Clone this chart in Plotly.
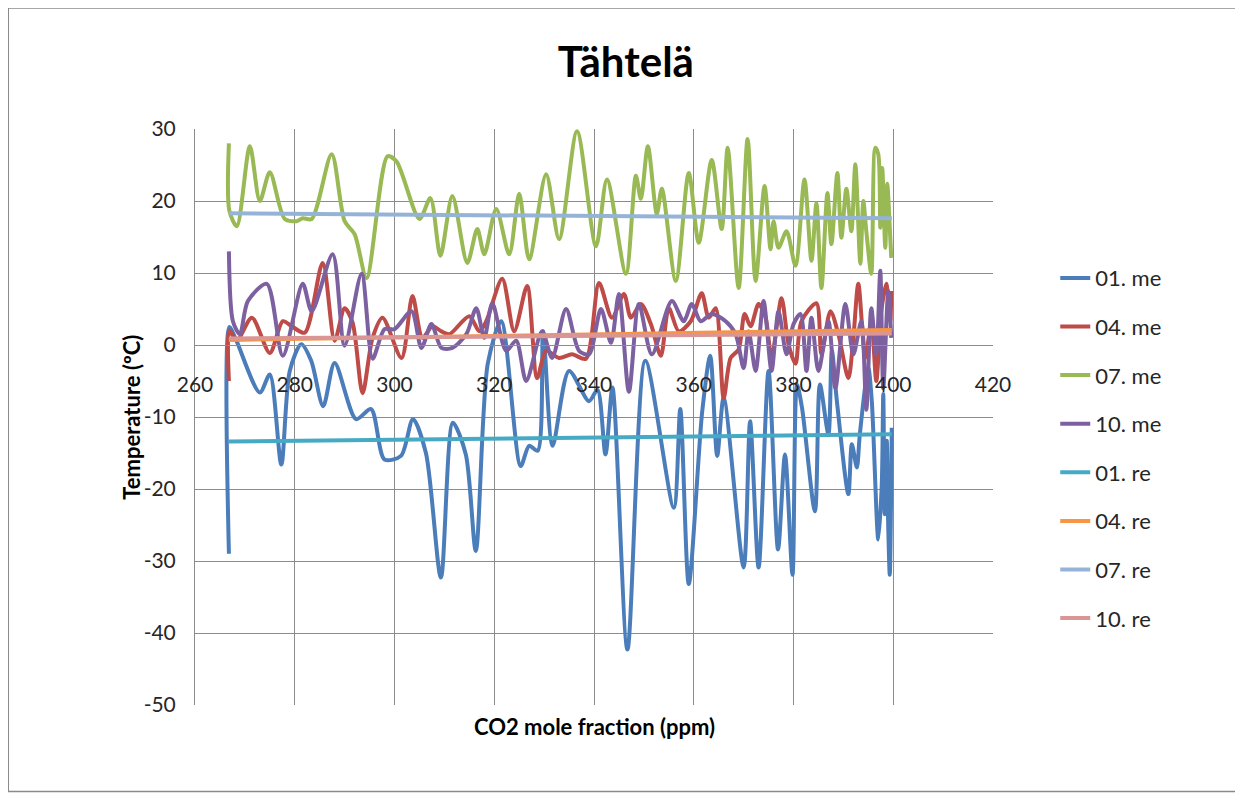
import plotly.graph_objects as go

# CO2 (ppm) / temperature (ºC) knots
x_01_me = [266.8, 266.9, 268.3, 273, 275, 277.3, 279, 281.3, 283.3, 285.7, 288, 292.3, 295.3, 298, 301.3,
           303.7, 306.3, 309.3, 311.7, 314.3, 316.3, 318.7, 321.4, 325.3, 327, 328.7, 329.8, 331.7, 335, 339,
           340.7, 342.3, 343.7, 346.7, 350.3, 356, 357.3, 359, 361.7, 363.3, 364.7, 366, 370, 371.3, 373,
           375, 376.9, 378.3, 379.8, 380.7, 381.7, 384.3, 385.3, 387, 387.7, 388.7, 391, 391.7, 392.7, 393.3,
           395, 395.7, 397, 397.7, 398, 398.3, 398.7, 399, 399.3, 399.7]
t_01_me = [-29, 2.5, 0.6, -6.6, -4.1, -16.6, -3.6, 0.1, -2.2, -8.5, -2.5, -10.3, -8.9, -15.9, -15.4,
           -10.3, -15, -32.3, -10.8, -15.2, -28.6, -2.6, 3.3, -16.8, -14, -14.7, 1.9, -14, -3.6, -7.8,
           -6.2, -15.2, -5.9, -42.3, -2.2, -22.6, -8.9, -33.2, -9.2, -1.5, -15.4, -7.3, -30.9, -10.6, -30.9,
           -3.6, -28.4, -15.2, -31.9, -5.5, -8.7, -23.1, -5.5, -12.4, -0.8, -7.8, -20.7, -13.8, -17, -12.4,
           -3.2, -7.8, -27, -19.3, -6.8, -23.5, -13.3, -25.4, -31.9, -11.5]

x_04_me = [266.8, 266.9, 268.4, 271.4, 275, 277.6, 279.4, 282, 285.6, 288, 290, 291.6, 293.6, 295.6, 297.6,
           301.4, 303.6, 305.6, 307.6, 309.4, 311, 315, 317, 318.4, 321.6, 324, 326.6, 328.6, 330.4, 333,
           335.6, 338.4, 341, 343.6, 346, 347.4, 349.4, 351.4, 353.4, 355, 357, 359.4, 361.6, 363, 364.4,
           366, 367.4, 369, 370.2, 371.4, 373, 374.4, 375.6, 377.6, 379, 380.4, 381.6, 384.6, 385.6, 387.4,
           389, 391, 392, 393, 394.4, 395.6, 396.6, 397.6, 398.6, 399.4, 399.6]
t_04_me = [-5, 2, 0.6, 3.8, -1.1, 3.3, 2.6, 1.7, 11.4, 0.6, 5.1, 3.1, -6.7, 1.0, 3.8,
           -1.8, 6.8, 1.0, 2.6, 1.9, 1.5, 4.0, 1.9, 3.3, 9.2, 1.9, 8.2, -4.6, -0.8, -1.8,
           -1.3, -1.9, 8.6, 3.8, 7.1, 3.8, 5.7, 2.9, -1.5, 5.1, 1.9, 3.3, 7.2, 3.8, 5.1,
           -7.4, -1.8, -0.6, 4.3, 2.6, 5.7, 3.8, -1.8, 6.5, 0.1, -2.6, 3.3, 5.8, -1.3, 4.7,
           1.5, -4.6, 1.0, 8.5, -1.8, 3.3, -5, 4.7, 8.5, 3.3, 7.5]

x_07_me = [266.8, 266.9, 268.4, 271, 273, 275, 278, 280.4, 281.6, 283.4, 287.4, 290, 292, 294.4, 298.6,
           300.4, 305, 307.2, 309.2, 311.6, 314.6, 316.6, 318, 320.4, 323, 325, 327, 330.4, 333, 336.6,
           340.4, 342.6, 346.4, 348.4, 349.4, 350.8, 352.6, 353.6, 356.4, 359, 361, 363.6, 365.6, 366.8, 369,
           370.8, 372.4, 374.2, 375.4, 376, 377, 378.6, 380.4, 382.2, 383.6, 384.6, 385.6, 386.8, 387.6, 388.8,
           389.6, 390.6, 391.6, 392.4, 393.4, 394, 394.6, 395.6, 396.4, 397, 397.4, 397.8, 398.4, 398.8,
           399.4, 399.6]
t_07_me = [28, 18.6, 16.5, 27.6, 20, 24, 17.5, 17.2, 17.6, 17.5, 26.5, 17.2, 15.4, 9.3, 26.2,
           25.5, 17.5, 20.4, 12.4, 20.7, 11.4, 16.1, 12.6, 18.9, 12.6, 21, 11.9, 23.7, 14.7, 29.7,
           13.7, 23, 9.9, 23.5, 20.3, 27.6, 18.2, 21.7, 8.9, 23.9, 14.2, 25.7, 16.1, 27.4, 7.9,
           28.6, 8.9, 22.1, 13.3, 17.2, 13.5, 15.8, 11.0, 23.0, 11.7, 19.7, 7.9, 21.1, 14.0, 23.9,
           14.9, 21.7, 15.8, 25.1, 11.3, 20, 15.8, 9.9, 27.4, 26.5, 16.3, 24.6, 13.5, 22.4,
           14.9, 12.1]

x_10_me = [266.8, 267.6, 269, 270.6, 274.4, 277.6, 281.6, 283.4, 287.6, 290, 293.4, 295.6, 298, 300, 303.4,
           305.4, 307.4, 309.4, 311.6, 314.4, 316.4, 318, 319.6, 322.4, 324.4, 326.4, 329.6, 331.6, 334.4, 337,
           339, 341.4, 343.4, 345, 347, 349, 351.6, 355.6, 358, 359.6, 361.4, 363.6, 366.4, 368.4, 370,
           371, 372.4, 374, 375.6, 377, 378.6, 380, 381.4, 382.6, 383.6, 385, 387, 388.4, 390.4, 392,
           393.6, 394.6, 395.6, 396.6, 397.4, 398, 399, 399.6]
t_10_me = [13, 3.3, 1.5, 6.1, 8.5, -1.5, 8.5, 4.7, 12.6, -0.1, 9.9, -1.9, 2.2, 2.2, 4.7,
           -0.4, 2.9, -0.4, -0.4, 1.5, 5.1, 1.0, 5.8, -0.8, 0.6, -5, 1.9, -1.8, 5.0, -0.8,
           -1.3, 5.0, 0.3, 7.1, -6.5, 5.7, -1.3, 6.1, 3.3, 5.7, 3.3, 4.3, 3.3, 1.5, -3.2,
           1.9, -3.6, 6.1, -3.6, 4.7, -1.3, 2.9, 4.3, -3.6, 3.8, -3.6, 3.3, -6, 5.7, -1.3,
           3.3, -9, 5.1, -1.3, 10.3, -6, 7.5, 1]

# regression lines (end points)
x_re = [266.8, 399.7]
t_01_re = [-13.4, -12.4]
t_04_re = [0.7, 2.1]
t_07_re = [18.3, 17.6]
t_10_re = [0.9, 1.6]

x_ticks = [260, 280, 300, 320, 340, 360, 380, 400, 420]
y_ticks = [-50, -40, -30, -20, -10, 0, 10, 20, 30]

series = [
    ("01. me", x_01_me, t_01_me, "#4A7DBA", "spline"),
    ("04. me", x_04_me, t_04_me, "#BE4B48", "spline"),
    ("07. me", x_07_me, t_07_me, "#98B954", "spline"),
    ("10. me", x_10_me, t_10_me, "#7D60A0", "spline"),
    ("01. re", x_re, t_01_re, "#46AAC5", "linear"),
    ("04. re", x_re, t_04_re, "#F69544", "linear"),
    ("07. re", x_re, t_07_re, "#95B3D7", "linear"),
    ("10. re", x_re, t_10_re, "#D99694", "linear"),
]

FONT = "Lato, 'Open Sans', sans-serif"
GRID = "#8C8C8C"
TXT = "#262626"

fig = go.Figure()
for name, xs, ys, col, shape in series:
    fig.add_trace(go.Scatter(
        x=xs, y=ys, mode="lines", name=name, legendgroup=name,
        line=dict(color=col, width=4, shape=shape, smoothing=0.8),
    ))

# the page has an 8px body margin, so the figure is offset by 8px
fig.update_layout(
    width=1243, height=800,
    margin=dict(l=187, r=258, t=121, b=103),
    paper_bgcolor="white", plot_bgcolor="white",
    font=dict(family=FONT, size=20, color=TXT),
    title=dict(text="<b>Tähtelä</b>", x=0.497, xanchor="center", y=0.9325, yanchor="middle",
               font=dict(size=42, color="#000000", family=FONT)),
    xaxis=dict(range=[260, 420], tickmode="array", tickvals=x_ticks,
               ticktext=[str(v) for v in x_ticks],
               showgrid=True, gridcolor=GRID, gridwidth=1,
               zeroline=False, showline=True, linecolor=GRID, linewidth=1,
               anchor="free", position=0.625, ticks="", ticklabelstandoff=21,
               tickfont=dict(size=21, color=TXT)),
    yaxis=dict(range=[-50, 30], tickmode="array", tickvals=y_ticks,
               ticktext=[str(v) for v in y_ticks],
               showgrid=True, gridcolor=GRID, gridwidth=1,
               zeroline=False, showline=True, linecolor=GRID, linewidth=1, ticks="",
               ticklabelstandoff=14, tickfont=dict(size=21, color=TXT)),
    legend=dict(x=1.078, xanchor="left", y=0.446, yanchor="middle", tracegroupgap=17,
                font=dict(size=22, color=TXT), bgcolor="rgba(0,0,0,0)"),
    annotations=[
        dict(text="<b>CO2 mole fraction (ppm)</b>", xref="paper", yref="paper", x=0.5, y=-0.038,
             yanchor="middle", showarrow=False, font=dict(size=22, color="#000000")),
        dict(text="<b>Temperature (ºC)</b>", xref="paper", yref="paper", x=-0.1, y=0.5,
             textangle=-90, showarrow=False, font=dict(size=22, color="#000000")),
    ],
    shapes=[
        dict(type="rect", xref="paper", yref="paper", x0=-0.234, x1=1.3045, y0=-0.15, y1=1.21,
             line=dict(color="#8A8A8A", width=1.5)),
    ],
)

fig.write_html("out.html")
